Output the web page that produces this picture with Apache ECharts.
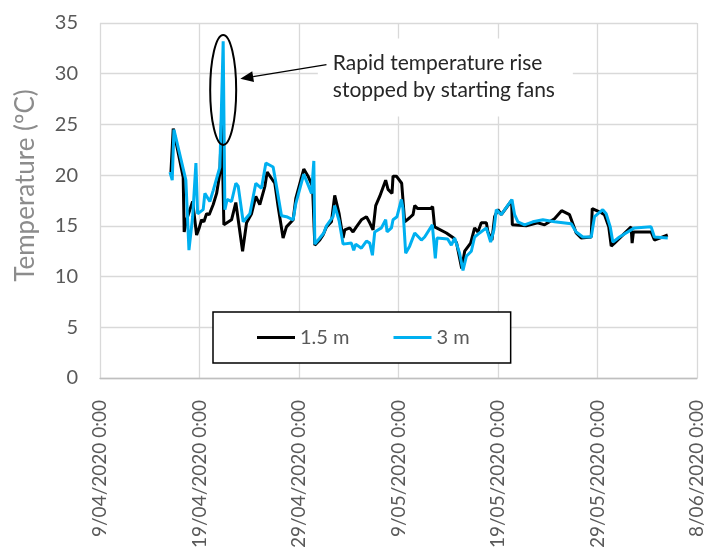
<!DOCTYPE html>
<html>
<head>
<meta charset="utf-8">
<script src="https://cdn.jsdelivr.net/npm/echarts@6/dist/echarts.min.js"></script>
<style>
  html, body { margin: 0; padding: 0; background: #ffffff; }
  #chart { width: 707px; height: 548px; }
</style>
</head>
<body>
<div id="chart"></div>
<script>
// Logger readings, x = days elapsed since 9/04/2020 0:00
const dateTickLabels = [
  '9/04/2020 0:00', '19/04/2020 0:00', '29/04/2020 0:00', '9/05/2020 0:00',
  '19/05/2020 0:00', '29/05/2020 0:00', '8/06/2020 0:00'
];

// Sensor at 1.5 m
const depth15Days = [
  7.13, 7.36, 8.36, 8.46, 8.70, 9.31, 9.71, 9.97, 10.21, 10.44, 10.71, 10.97, 11.38, 11.72,
  12.05, 12.22, 12.45, 13.22, 13.65, 14.33, 14.73, 15.23, 15.66, 16.06, 16.57, 16.80, 17.57,
  17.90, 18.40, 18.74, 19.41, 19.68, 20.48, 20.91, 21.36, 21.59, 22.09, 22.42, 22.76, 23.26,
  23.59, 24.03, 24.43, 24.60, 25.10, 25.43, 25.77, 26.27, 26.78, 27.11, 27.44, 27.71, 28.11,
  28.71, 28.95, 29.35, 29.45, 29.79, 30.32, 30.62, 31.12, 31.46, 31.63, 31.93, 33.23, 33.43,
  33.63, 34.81, 35.54, 35.84, 36.35, 36.65, 37.25, 37.65, 37.98, 38.32, 38.83, 38.99, 39.39,
  39.66, 39.99, 40.33, 41.37, 41.44, 42.84, 43.98, 44.68, 45.68, 46.39, 47.19, 47.86, 48.36,
  49.37, 49.47, 50.37, 50.70, 51.13, 51.38, 51.71, 53.38, 53.48, 53.61, 55.39, 55.72, 57.06
];
const depth15Temp = [
  20.3, 24.6, 19.8, 14.4, 15.6, 17.4, 14.1, 14.8, 15.6, 15.4, 16.2, 16.1, 17.1, 18.2,
  20.2, 25.8, 15.1, 15.6, 17.3, 12.5, 15.3, 16.2, 17.9, 17.1, 18.9, 20.3, 19.2,
  16.9, 13.8, 14.9, 15.6, 17.7, 20.6, 19.9, 18.9, 13.1, 13.6, 14.1, 14.9, 15.4,
  18.0, 16.2, 13.8, 14.6, 14.8, 14.4, 14.9, 15.6, 15.9, 15.3, 14.6, 17.0, 17.9,
  19.5, 18.6, 18.2, 19.9, 19.9, 19.2, 15.4, 15.8, 16.1, 17.0, 16.7, 16.7, 16.9,
  14.9, 14.3, 13.8, 13.3, 10.8, 12.5, 13.3, 14.8, 14.4, 15.3, 15.3, 14.4, 13.6,
  15.9, 16.6, 16.1, 17.5, 15.1, 15.0, 15.3, 15.1, 15.7, 16.5, 16.1, 14.3, 13.8,
  13.9, 16.7, 16.3, 16.1, 14.9, 13.0, 13.3, 14.9, 13.3, 14.4, 14.4, 13.6, 14.1
];

// Sensor at 3 m
const depth3Days = [
  7.03, 7.26, 7.43, 8.63, 8.94, 9.31, 9.64, 9.81, 10.37, 10.54, 11.04, 11.38, 12.05, 12.38,
  12.55, 12.78, 13.22, 13.65, 13.89, 14.39, 15.06, 15.66, 16.23, 16.67, 17.40, 17.74, 18.24,
  18.74, 19.41, 19.68, 20.48, 21.26, 21.49, 21.59, 22.09, 22.49, 22.76, 23.42, 23.59, 24.03,
  24.43, 25.27, 25.50, 25.70, 26.27, 26.78, 27.11, 27.38, 27.61, 28.28, 28.71, 28.85, 29.29,
  29.45, 29.85, 30.29, 30.45, 30.72, 31.12, 31.63, 32.30, 32.63, 33.40, 33.70, 33.87, 34.94,
  35.31, 35.64, 36.14, 36.48, 36.82, 37.32, 37.65, 38.15, 38.83, 39.26, 39.59, 39.83, 40.33,
  41.40, 41.67, 42.00, 42.67, 43.50, 44.51, 45.68, 47.36, 47.86, 48.52, 49.37, 49.70, 50.53,
  50.87, 51.28, 51.54, 52.21, 53.71, 55.39, 55.72, 57.06
];
const depth3Temp = [
  20.3, 19.5, 24.5, 19.5, 12.6, 15.9, 21.2, 16.2, 16.6, 18.2, 17.4, 18.5, 20.8, 33.2,
  16.6, 17.6, 17.4, 19.2, 18.9, 15.4, 16.2, 19.2, 18.7, 21.2, 20.8, 18.9, 16.0,
  15.9, 15.6, 17.2, 20.1, 18.2, 21.4, 13.2, 13.8, 14.3, 15.0, 15.9, 17.0, 15.5,
  13.2, 13.3, 12.6, 13.2, 12.8, 13.5, 13.3, 12.1, 14.4, 14.8, 15.6, 14.4, 14.8,
  15.6, 15.9, 17.6, 16.7, 12.3, 13.0, 14.3, 13.6, 13.9, 15.1, 11.8, 13.8, 13.7,
  13.1, 13.8, 12.3, 10.6, 12.0, 12.5, 13.9, 14.3, 14.8, 13.4, 14.6, 16.6, 16.1,
  17.6, 16.1, 15.4, 15.1, 15.4, 15.6, 15.4, 15.2, 14.4, 13.9, 13.9, 15.9, 16.6,
  16.2, 14.9, 13.4, 13.9, 14.8, 14.9, 13.9, 13.8
];

const seriesNames = ['1.5 m', '3 m'];
const seriesColors = ['#000000', '#00B0F0'];
const noteLines = ['Rapid temperature rise', 'stopped by starting fans'];

// Fan start-up event: where the callout sits in chart units
const spikeDay = 12.38;
const spikeCentreTemp = 28.4;
const arrowTail = [22.76, 30.9];
const arrowTip = [14.1, 29.5];
const noteAnchor = [23.4, 31.0];

const FONT = 'Lato, "Open Sans", sans-serif';

const zip = (xs, ys) => xs.map((x, i) => [x, ys[i]]);

const chart = echarts.init(document.getElementById('chart'), null, { renderer: 'canvas' });

chart.setOption({
  animation: false,
  backgroundColor: '#ffffff',
  textStyle: { fontFamily: FONT },
  grid: { left: 100, right: 10, top: 23, bottom: 170, containLabel: false, outerBoundsMode: 'none' },
  legend: {
    data: seriesNames,
    left: 213,
    top: 312,
    orient: 'horizontal',
    icon: 'rect',
    backgroundColor: '#ffffff',
    borderColor: '#000000',
    borderWidth: 1.5,
    borderRadius: 0,
    padding: [15, 41, 15, 44],
    itemGap: 44,
    itemWidth: 38,
    itemHeight: 3,
    textStyle: { fontFamily: FONT, fontSize: 20, color: '#595959', lineHeight: 21 }
  },
  xAxis: {
    type: 'value',
    min: 0,
    max: 60,
    interval: 10,
    axisLine: { show: true, lineStyle: { color: '#bfbfbf', width: 1.3 } },
    axisTick: { show: false },
    splitLine: { show: true, lineStyle: { color: '#d9d9d9', width: 1.3 } },
    axisLabel: {
      rotate: 90,
      margin: 22,
      fontFamily: FONT,
      fontSize: 19,
      color: '#595959',
      hideOverlap: false,
      formatter: v => dateTickLabels[Math.round(v / 10)]
    }
  },
  yAxis: {
    type: 'value',
    min: 0,
    max: 35,
    interval: 5,
    name: 'Temperature (ºC)',
    nameLocation: 'middle',
    nameGap: 61,
    nameTextStyle: { fontFamily: FONT, fontSize: 26, color: '#8c8c8c', padding: [0, 0, 0, 30] },
    axisLine: { show: false },
    axisTick: { show: false },
    splitLine: { show: true, lineStyle: { color: '#d9d9d9', width: 1.3 } },
    axisLabel: { margin: 22, fontFamily: FONT, fontSize: 20, color: '#595959' }
  },
  series: [
    {
      name: seriesNames[0],
      type: 'line',
      data: zip(depth15Days, depth15Temp),
      symbol: 'none',
      lineStyle: { color: seriesColors[0], width: 3 },
      itemStyle: { color: seriesColors[0] },
      z: 2
    },
    {
      name: seriesNames[1],
      type: 'line',
      data: zip(depth3Days, depth3Temp),
      symbol: 'none',
      lineStyle: { color: seriesColors[1], width: 3 },
      itemStyle: { color: seriesColors[1] },
      z: 3
    }
  ]
});

// Callout: ellipse round the spike, arrow and boxed note, anchored in chart units
function drawCallout() {
  const px = p => chart.convertToPixel({ gridIndex: 0 }, p);
  const c = px([spikeDay, spikeCentreTemp]);
  const tail = px(arrowTail);
  const tip = px(arrowTip);
  const note = px(noteAnchor);

  const ang = Math.atan2(tip[1] - tail[1], tip[0] - tail[0]);
  const headLen = 13, headHalf = 5.5;
  const bx = tip[0] - headLen * Math.cos(ang);
  const by = tip[1] - headLen * Math.sin(ang);
  const nx = -Math.sin(ang), ny = Math.cos(ang);

  chart.setOption({
    graphic: [
      {
        type: 'rect',
        shape: { x: note[0] - 15, y: note[1] - 25, width: 255, height: 78 },
        style: { fill: '#ffffff' },
        z: 50
      },
      {
        type: 'text',
        x: note[0], y: note[1],
        style: {
          text: noteLines[0], font: '21px ' + FONT, fill: '#262626',
          textAlign: 'left', textVerticalAlign: 'middle'
        },
        z: 51
      },
      {
        type: 'text',
        x: note[0], y: note[1] + 27,
        style: {
          text: noteLines[1], font: '21px ' + FONT, fill: '#262626',
          textAlign: 'left', textVerticalAlign: 'middle'
        },
        z: 51
      },
      {
        type: 'line',
        shape: { x1: tail[0], y1: tail[1], x2: bx, y2: by },
        style: { stroke: '#000000', lineWidth: 1.3 },
        z: 52
      },
      {
        type: 'polygon',
        shape: {
          points: [
            [tip[0], tip[1]],
            [bx + nx * headHalf, by + ny * headHalf],
            [bx - nx * headHalf, by - ny * headHalf]
          ]
        },
        style: { fill: '#000000' },
        z: 52
      },
      {
        type: 'ellipse',
        shape: { cx: c[0], cy: c[1], rx: 13, ry: 55 },
        style: { fill: null, stroke: '#000000', lineWidth: 2 },
        z: 52
      }
    ]
  });
}
drawCallout();
</script>
</body>
</html>
